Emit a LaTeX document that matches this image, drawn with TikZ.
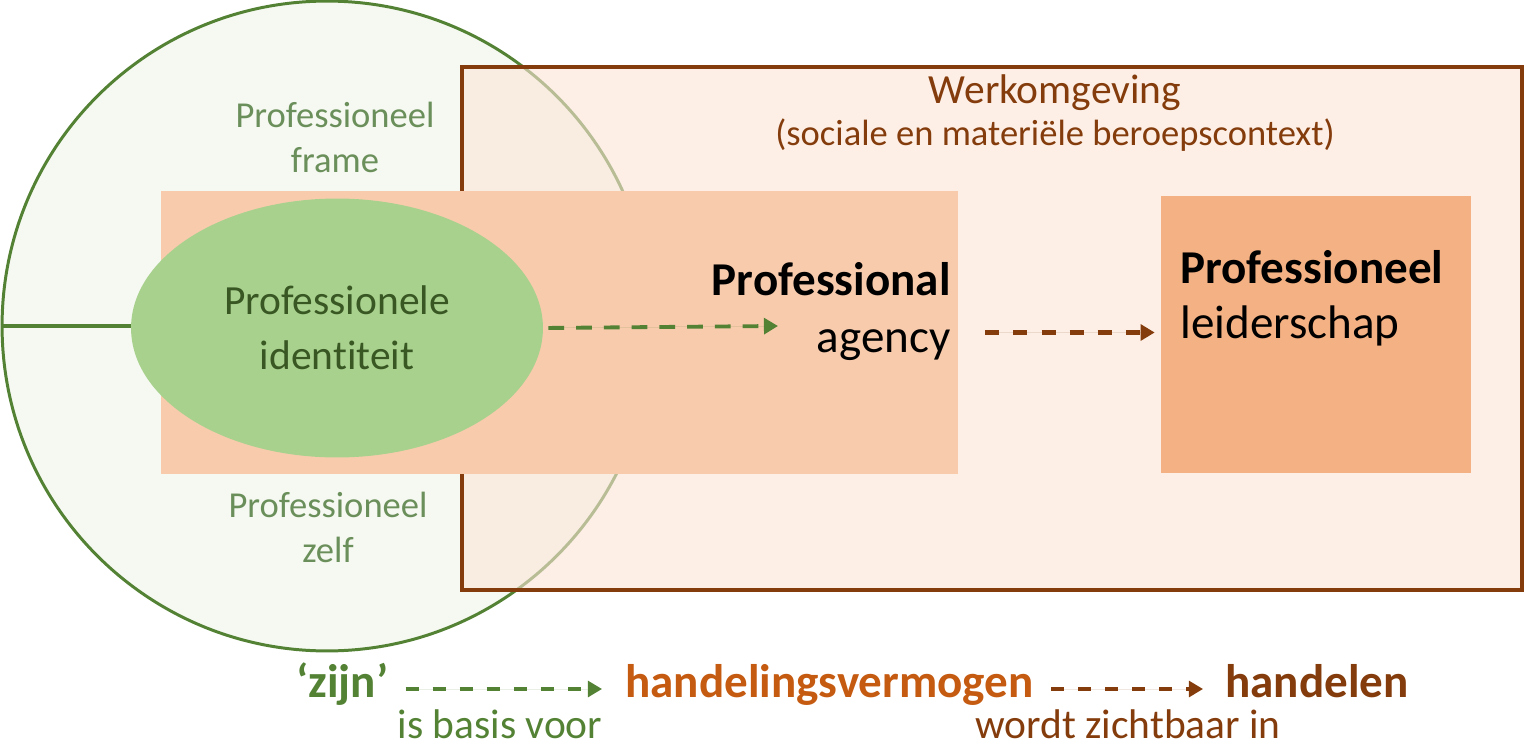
\documentclass[tikz,border=0pt]{standalone}
\usepackage{fontspec}
\setmainfont{Carlito}[Ligatures={TeX,NoCommon}]
\usetikzlibrary{positioning}
\usetikzlibrary{calc}
\usetikzlibrary{shapes.geometric}
\usetikzlibrary{arrows.meta}
\definecolor{framegreen}{HTML}{548235}
\definecolor{framefill}{HTML}{F5F9F1}
\definecolor{framelabel}{HTML}{6B8F5A}
\definecolor{idfill}{HTML}{A9D18E}
\definecolor{idtext}{HTML}{385723}
\definecolor{workbrown}{HTML}{843C0C}
\definecolor{workfill}{HTML}{FBE5D6}
\definecolor{agencyfill}{HTML}{F8CBAD}
\definecolor{leaderfill}{HTML}{F4B183}
\definecolor{actorange}{HTML}{C55A11}
\tikzset{
    % Filled triangle tips, as in the slide
    >={Triangle[length=8pt,width=9pt]},
%
    % Three text sizes
    small text/.style={font=\fontsize{20.8}{25.4}\selectfont},
    medium text/.style={font=\fontsize{23.6}{31.2}\selectfont},
    large text/.style={font=\fontsize{26.8}{32.3}\selectfont},
    label text/.style={inner sep=0, align=center},
%
    % The professional self, with its frame
    frame circle/.style={
        circle, draw=framegreen, line width=1.7pt, fill=framefill,
        minimum size=13cm, inner sep=0},
%
    % The working environment, lightly see-through
    work box/.style={
        draw=workbrown, line width=2pt, fill=workfill, fill opacity=0.6,
        minimum width=21.2cm, minimum height=10.46cm, inner sep=0},
    agency box/.style={
        fill=agencyfill, minimum width=15.94cm, minimum height=5.68cm,
        inner sep=0},
    leader box/.style={
        fill=leaderfill, minimum width=6.2cm, minimum height=5.54cm,
        inner sep=0},
    identity ellipse/.style={
        ellipse, fill=idfill, text=idtext, medium text, align=center,
        minimum width=8.24cm, minimum height=5.18cm, inner sep=0},
%
    % Dashed connectors
    green arrow/.style={
        ->, draw=framegreen, fill=framegreen, line width=2.2pt,
        dash pattern=on 9pt off 6.8pt},
    brown arrow/.style={
        ->, draw=workbrown, fill=workbrown, line width=2.3pt,
        dash pattern=on 8pt off 8pt},
    bottom arrow/.style={
        line width=1.8pt, dash pattern=on 7.4pt off 8pt}}

\begin{document}
\begin{tikzpicture}[x=0.02cm, y=-0.02cm]

\useasboundingbox (0,0) rectangle (1524,747);

% Shapes

\node [frame circle] (zelf) at (327,326) {};

\node [work box] (werk) at (992,328.5) {};

\node [agency box] (agencybox) at (559.5,332.5) {};

\node [leader box] (leaderbox) at (1316,334.5) {};

\node [identity ellipse] (identiteit) at (337,328)
    {Professionele\\identiteit};

\draw [framegreen, line width=2.2pt]
    (zelf.west) -- (zelf.west -| identiteit.west);

% Texts (base anchors sit on the last line)

\node [label text, small text, text=framelabel, anchor=base] (frame)
    at (335,172) {Professioneel\\frame};

\node [label text, small text, text=framelabel, anchor=base] (zelflabel)
    at (328,562) {Professioneel\\zelf};

\node [label text, text=workbrown, anchor=base,
    font=\fontsize{20.8}{23.8}\selectfont] (werklabel) at (1055,145)
    {{\fontsize{23.6}{23.8}\selectfont Werkomgeving}\\
     (sociale en materiële beroepscontext)};

\node [label text, large text, align=right, anchor=base east] (agency)
    at (951,352) {\textbf{Professional}\\agency};

\node [label text, align=left, anchor=base west,
    font=\fontsize{26.8}{31.2}\selectfont] (leiderschap)
    at (1180,338) {\textbf{Professioneel}\\leiderschap};

\coordinate (agencyin) at (778,326);

\draw [green arrow, shorten <=0.1cm] (identiteit.east) -- (agencyin);

\draw [brown arrow, shorten <=0.54cm, shorten >=0.12cm]
    (agencybox.east) -- (agencybox.east -| leaderbox.west);

% Bottom line

\node [label text, large text, text=framegreen, anchor=base west] (zijn)
    at (296,697) {\textbf{‘zijn’}};

\node [label text, large text, text=actorange, anchor=base west] (vermogen)
    at (625,697) {\textbf{handelingsvermogen}};

\node [label text, large text, text=workbrown, anchor=base west] (handelen)
    at (1225,697) {\textbf{handelen}};

\node [label text, medium text, text=framegreen, anchor=base] (basis)
    at (500,738) {is basis voor};

\node [label text, medium text, text=workbrown, anchor=base] (zichtbaar)
    at (1128,738) {wordt zichtbaar in};

\draw [green arrow, bottom arrow, shorten <=0.34cm, shorten >=0.46cm]
    ([yshift=0.16cm]zijn.base east) -- ([yshift=0.16cm]vermogen.base west);

\draw [brown arrow, bottom arrow, shorten <=0.34cm, shorten >=0.44cm]
    ([yshift=0.16cm]vermogen.base east) -- ([yshift=0.16cm]handelen.base west);

\end{tikzpicture}
\end{document}
